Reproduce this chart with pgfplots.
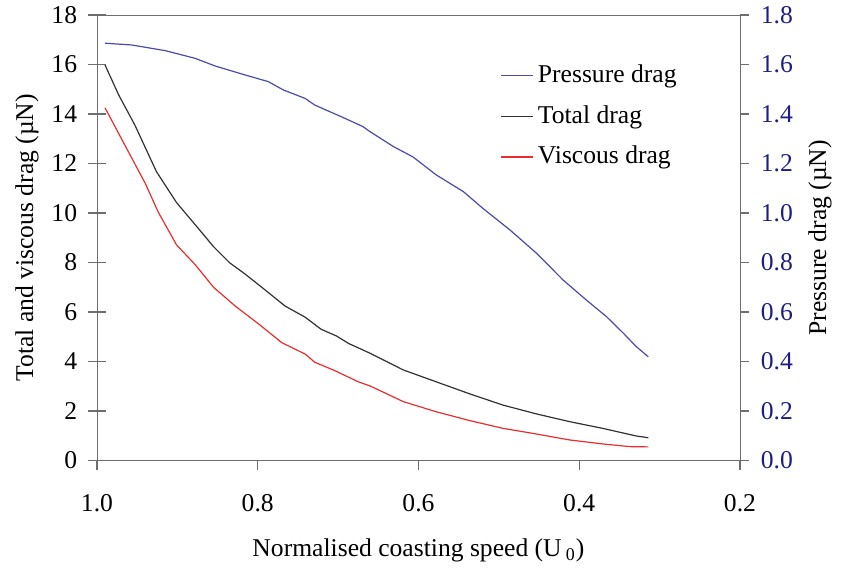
\documentclass[border=0pt]{standalone}
\usepackage{fontspec}
\setmainfont{Liberation Serif}
\usepackage{pgfplots}
\pgfplotsset{compat=1.18}
\definecolor{navyt}{RGB}{30,30,130}
\definecolor{pblue}{RGB}{75,75,175}
\definecolor{vred}{RGB}{235,45,45}
\definecolor{tblack}{RGB}{50,50,50}
\definecolor{axgray}{RGB}{110,110,110}
\begin{document}
\fontsize{12.8}{15}\selectfont
\begin{tikzpicture}
\useasboundingbox (-48.5pt,-54.25pt) rectangle (373pt,230.25pt);
\begin{axis}[
  scale only axis, width=321.5pt, height=222.75pt,
  at={(0,0)}, anchor=south west,
  x dir=reverse, xmin=0.2, xmax=1.0,
  ymin=0, ymax=18, ytick={0,2,...,18},
  xtick=\empty, ytick pos=left,
  tick align=center, major tick length=9pt,
  axis line style={axgray}, tick style={axgray, line width=0.6pt},
  every axis plot/.append style={line width=0.6pt},
  /pgf/number format/assume math mode=true,
  yticklabel style={font=\fontsize{12.8}{15}\selectfont, xshift=-1pt},
  ylabel={Total and viscous drag (µN)},
  ylabel style={font=\fontsize{12.8}{15}\selectfont},
  every axis y label/.style={at={(axis description cs:0,0.5)}, xshift=-35pt, rotate=90, anchor=center},
]
\addplot[tblack, mark=none] coordinates {
(0.990,15.98) (0.973,14.77) (0.953,13.56) (0.926,11.67) (0.901,10.42) (0.874,9.38)
(0.855,8.64) (0.835,7.99) (0.816,7.54) (0.795,7.00) (0.766,6.24) (0.741,5.79) (0.721,5.30)
(0.702,5.03) (0.687,4.73) (0.660,4.33) (0.619,3.66) (0.578,3.18) (0.536,2.69)
(0.495,2.24) (0.453,1.88) (0.412,1.57) (0.371,1.30) (0.329,0.99) (0.314,0.92)
};
\addplot[vred, mark=none] coordinates {
(0.990,14.25) (0.961,12.48) (0.940,11.20) (0.924,10.05) (0.901,8.71)
(0.878,7.92) (0.855,7.00) (0.828,6.24) (0.799,5.52) (0.770,4.76) (0.741,4.30)
(0.729,3.97) (0.704,3.63) (0.675,3.18) (0.660,3.01) (0.619,2.38) (0.578,1.97)
(0.536,1.61) (0.495,1.30) (0.453,1.07) (0.412,0.83) (0.371,0.67) (0.337,0.56)
(0.314,0.55)
};
\end{axis}
\begin{axis}[
  scale only axis, width=321.5pt, height=222.75pt,
  at={(0,0)}, anchor=south west,
  x dir=reverse, xmin=0.2, xmax=1.0,
  xtick={1.0,0.8,0.6,0.4,0.2},
  ymin=0, ymax=1.8, ytick={0,0.2,...,1.8},
  axis x line*=bottom, axis y line*=right,
  axis line style={axgray,-}, tick style={axgray, line width=0.6pt},
  tick align=outside, major tick length=4.5pt,
  every axis plot/.append style={line width=0.6pt},
  /pgf/number format/assume math mode=true,
  xticklabel={\pgfmathprintnumber[fixed,fixed zerofill,precision=1]{\tick}},
  yticklabel={\pgfmathprintnumber[fixed,fixed zerofill,precision=1]{\tick}},
  xticklabel style={font=\fontsize{12.8}{15}\selectfont, yshift=-8pt},
  yticklabel style={font=\fontsize{12.8}{15}\selectfont, text=navyt, xshift=1.5pt},
  xlabel={Normalised coasting speed (U\,\textsubscript{0})},
  xlabel style={font=\fontsize{12.8}{15}\selectfont},
  every axis x label/.style={at={(axis description cs:0.5,0)}, anchor=center, yshift=-45pt},
  ylabel={Pressure drag (µN)},
  ylabel style={font=\fontsize{12.8}{15}\selectfont, text=navyt},
  every axis y label/.style={at={(axis description cs:1,0.5)}, xshift=40pt, rotate=90, anchor=center},
  legend style={draw=none, fill=none, at={(axis description cs:0.627,0.898)}, anchor=north west,
    font=\fontsize{12.8}{15}\selectfont, row sep=5.5pt, inner sep=0pt},
  legend cell align=left,
  legend image code/.code={\draw[#1] (0pt,0pt) -- (16pt,0pt);},
]
\addplot[pblue, mark=none, forget plot] coordinates {
(0.990,1.686) (0.957,1.679) (0.915,1.656) (0.878,1.625) (0.853,1.594) (0.816,1.558)
(0.787,1.531) (0.768,1.497) (0.741,1.463) (0.729,1.436) (0.696,1.389) (0.669,1.349)
(0.660,1.328) (0.631,1.268) (0.607,1.227) (0.578,1.154) (0.544,1.086) (0.520,1.019)
(0.486,0.931) (0.453,0.837) (0.420,0.729) (0.391,0.648) (0.366,0.581) (0.345,0.514)
(0.329,0.460) (0.314,0.419)
};
\addlegendimage{draw=pblue, line width=0.7pt}
\addlegendentry{Pressure drag}
\addlegendimage{draw=tblack, line width=0.7pt}
\addlegendentry{Total drag}
\addlegendimage{draw=vred, line width=0.7pt}
\addlegendentry{Viscous drag}
\end{axis}
\end{tikzpicture}
\end{document}
